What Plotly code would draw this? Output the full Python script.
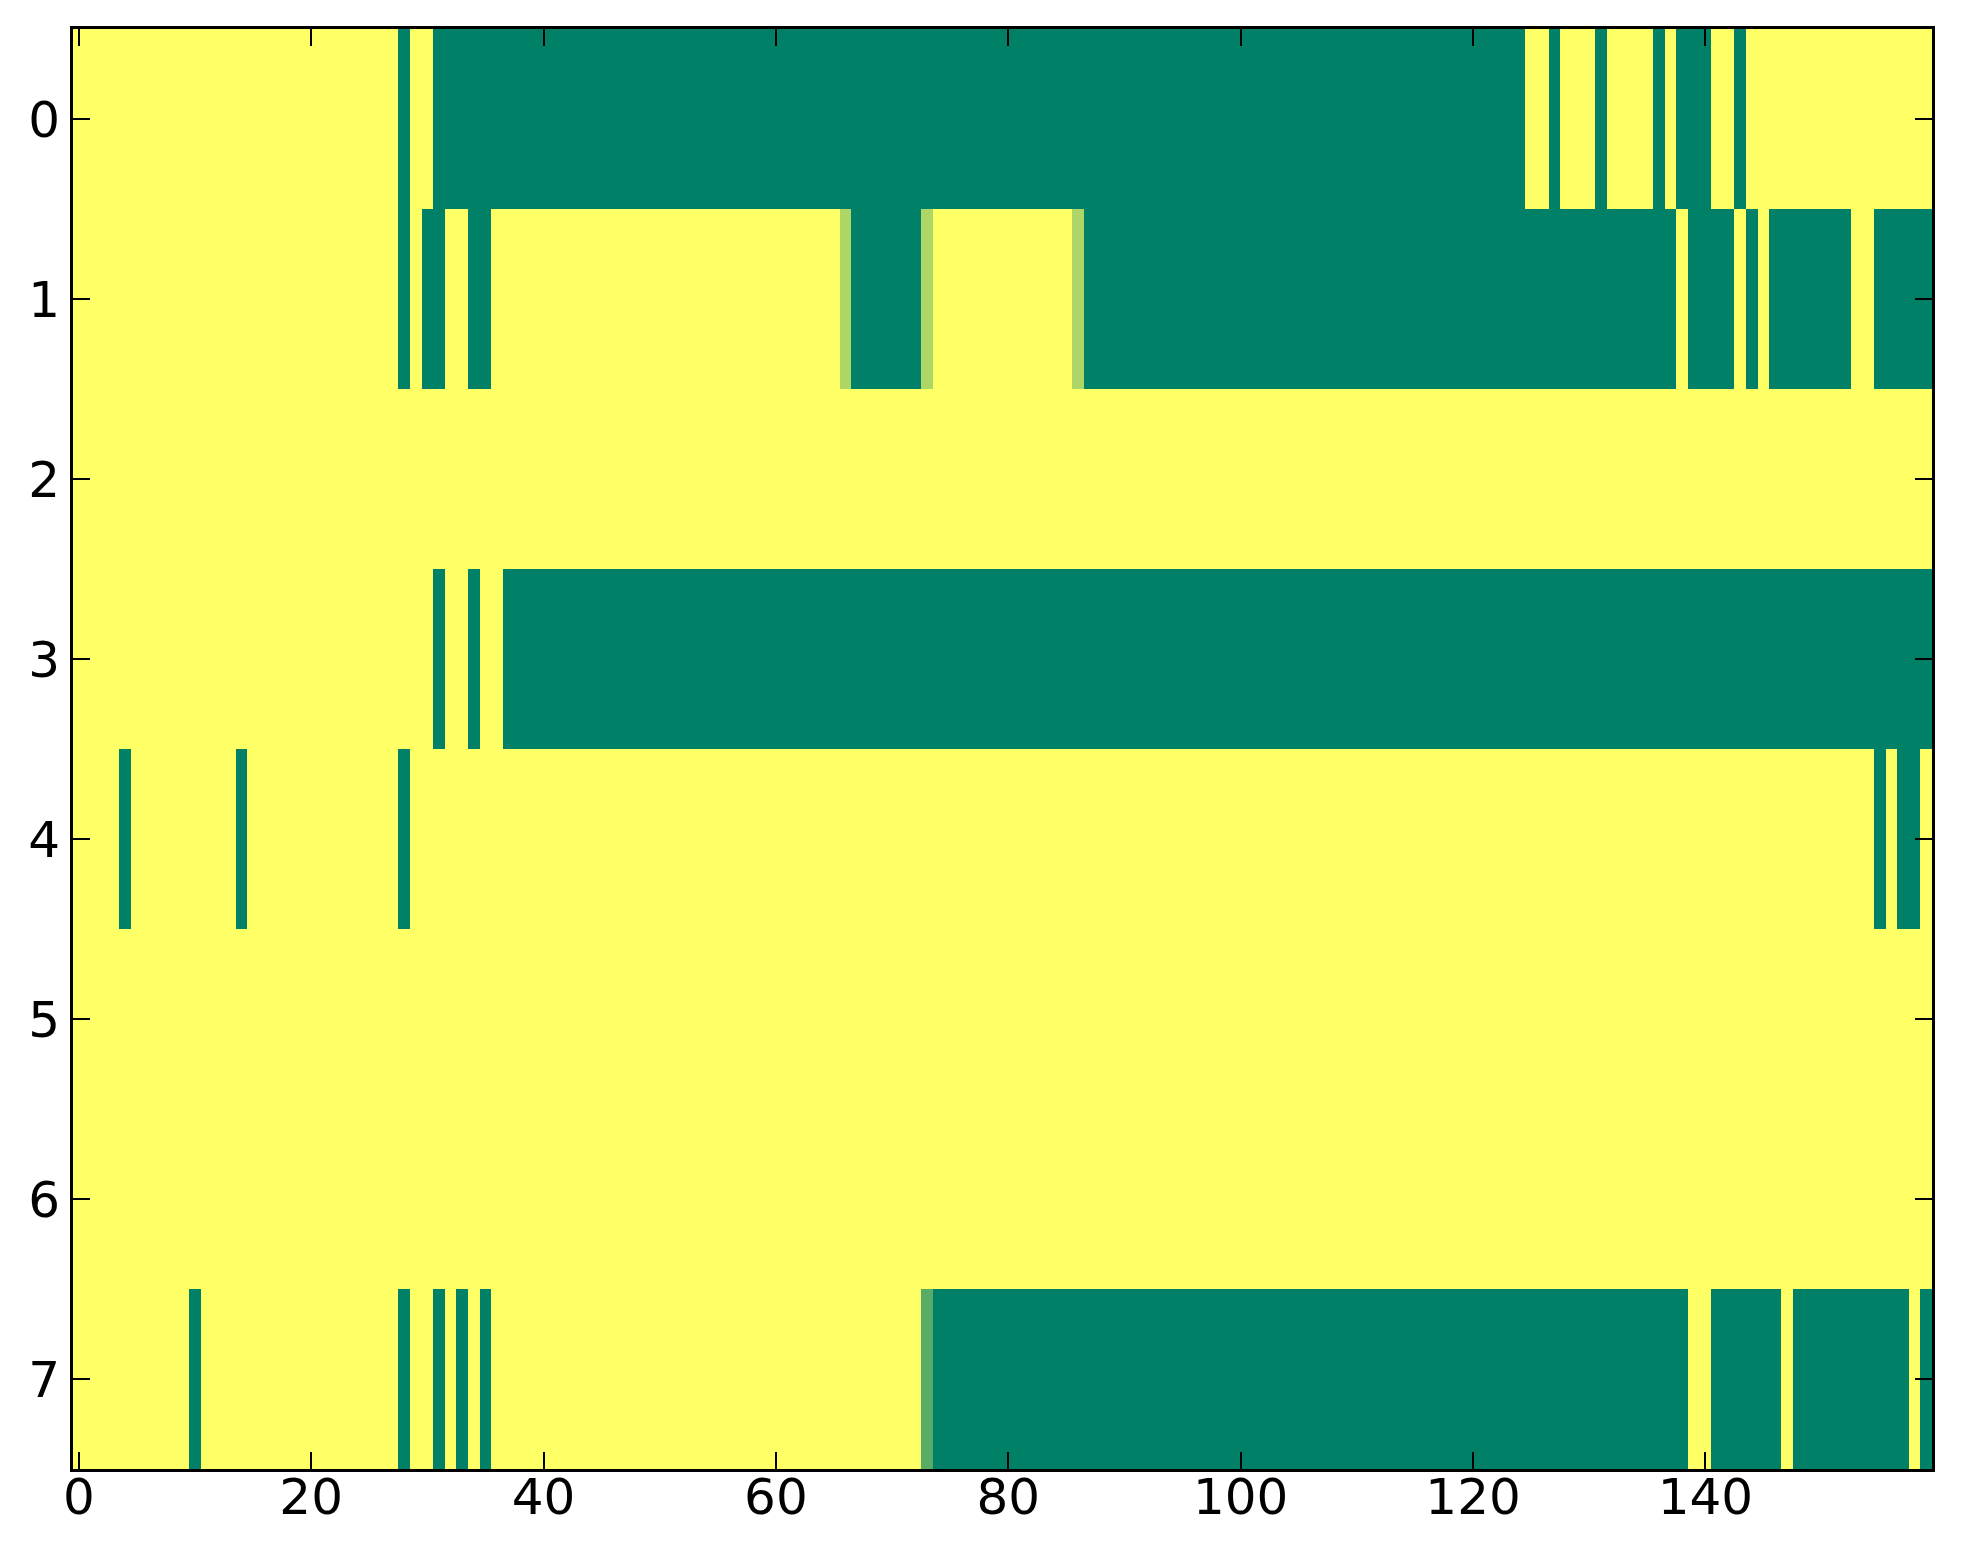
import numpy as np
import plotly.graph_objects as go

# 8 rows x 160 columns, values on the "summer" colormap (0 = dark green, 1 = yellow)
row_labels = list(range(8))
n_cols = 160

# inclusive column ranges that sit at the low end (value 0); everything else is 1
low_runs = [
    [(28, 28), (31, 124), (127, 127), (131, 131), (136, 136), (138, 140), (143, 143)],
    [(28, 28), (30, 31), (34, 35), (67, 72), (87, 137), (139, 142), (144, 144), (146, 152), (155, 159)],
    [],
    [(31, 31), (34, 34), (37, 159)],
    [(4, 4), (14, 14), (28, 28), (155, 155), (157, 158)],
    [],
    [],
    [(10, 10), (28, 28), (31, 31), (33, 33), (35, 35), (74, 138), (141, 146), (148, 157), (159, 159)],
]

# single cells with an in-between value (row, col, value)
mid_cells = [(1, 66, 0.68), (1, 73, 0.68), (1, 86, 0.68), (7, 73, 0.35)]

x_ticks = [0, 20, 40, 60, 80, 100, 120, 140]

z = np.ones((len(row_labels), n_cols))
for r, runs in enumerate(low_runs):
    for a, b in runs:
        z[r, a:b + 1] = 0.0
for r, c, v in mid_cells:
    z[r, c] = v

summer = [[0.0, 'rgb(0,128,102)'], [1.0, 'rgb(255,255,102)']]

fig = go.Figure(go.Heatmap(
    z=z, x=list(range(n_cols)), y=row_labels,
    colorscale=summer, zmin=0, zmax=1, showscale=False,
))

axis_style = dict(
    showgrid=False, zeroline=False,
    showline=True, linecolor='black', linewidth=3, mirror='allticks',
    ticks='inside', ticklen=17, tickwidth=1.5, tickcolor='black',
    tickfont=dict(family='DejaVu Sans', size=50, color='black'),
)

# page body adds ~8px offset, margins compensate
fig.update_layout(
    width=1963, height=1564,
    paper_bgcolor='white', plot_bgcolor='white',
    margin=dict(l=65, r=39, t=21, b=103),
    xaxis=dict(range=[-0.5, n_cols - 0.5], tickvals=x_ticks,
               ticklabelstandoff=-18, **axis_style),
    yaxis=dict(range=[7.5, -0.5], tickvals=row_labels, **axis_style),
)

fig.write_html("out.html")
